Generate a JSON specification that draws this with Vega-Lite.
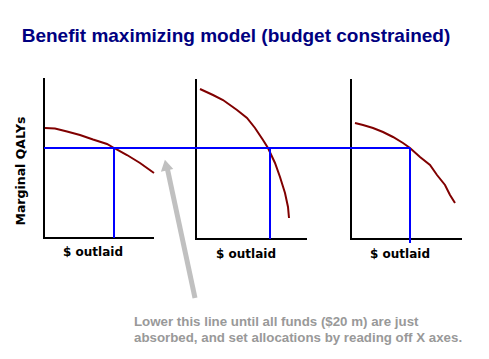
{
  "$schema": "https://vega.github.io/schema/vega-lite/v6.json",
  "width": 489,
  "height": 359,
  "autosize": {"type": "none"},
  "padding": 0,
  "background": "white",
  "config": {"view": {"stroke": null}},
  "datasets": {
    "axes": [
      {"x": 44, "y": 78, "x2": 44, "y2": 239},
      {"x": 43, "y": 238, "x2": 154, "y2": 238},
      {"x": 196, "y": 79, "x2": 196, "y2": 240},
      {"x": 195, "y": 239, "x2": 307, "y2": 239},
      {"x": 351, "y": 79, "x2": 351, "y2": 240},
      {"x": 350, "y": 239, "x2": 462, "y2": 239}
    ],
    "blue": [
      {"x": 44, "y": 148, "x2": 410, "y2": 148},
      {"x": 114, "y": 148, "x2": 114, "y2": 238},
      {"x": 270, "y": 148, "x2": 270, "y2": 239},
      {"x": 410, "y": 148, "x2": 410, "y2": 243}
    ],
    "curves": [
      {"s": "a", "i": 0, "x": 45, "y": 128},
      {"s": "a", "i": 1, "x": 55, "y": 128.5},
      {"s": "a", "i": 2, "x": 67, "y": 131.5},
      {"s": "a", "i": 3, "x": 80, "y": 135},
      {"s": "a", "i": 4, "x": 93, "y": 139.5},
      {"s": "a", "i": 5, "x": 107, "y": 144},
      {"s": "a", "i": 6, "x": 114, "y": 148},
      {"s": "a", "i": 7, "x": 127, "y": 155},
      {"s": "a", "i": 8, "x": 140, "y": 163},
      {"s": "a", "i": 9, "x": 154, "y": 173},
      {"s": "b", "i": 0, "x": 200, "y": 89},
      {"s": "b", "i": 1, "x": 213, "y": 95},
      {"s": "b", "i": 2, "x": 223, "y": 100},
      {"s": "b", "i": 3, "x": 237, "y": 110},
      {"s": "b", "i": 4, "x": 247, "y": 118},
      {"s": "b", "i": 5, "x": 255, "y": 128},
      {"s": "b", "i": 6, "x": 263, "y": 140},
      {"s": "b", "i": 7, "x": 268, "y": 148},
      {"s": "b", "i": 8, "x": 275, "y": 163},
      {"s": "b", "i": 9, "x": 280, "y": 177},
      {"s": "b", "i": 10, "x": 285, "y": 193},
      {"s": "b", "i": 11, "x": 288, "y": 207},
      {"s": "b", "i": 12, "x": 289, "y": 218},
      {"s": "c", "i": 0, "x": 355, "y": 123},
      {"s": "c", "i": 1, "x": 363, "y": 125},
      {"s": "c", "i": 2, "x": 373, "y": 128},
      {"s": "c", "i": 3, "x": 383, "y": 132},
      {"s": "c", "i": 4, "x": 393, "y": 137},
      {"s": "c", "i": 5, "x": 403, "y": 143},
      {"s": "c", "i": 6, "x": 410, "y": 148},
      {"s": "c", "i": 7, "x": 420, "y": 157},
      {"s": "c", "i": 8, "x": 430, "y": 165},
      {"s": "c", "i": 9, "x": 437, "y": 175},
      {"s": "c", "i": 10, "x": 445, "y": 185},
      {"s": "c", "i": 11, "x": 450, "y": 195},
      {"s": "c", "i": 12, "x": 455, "y": 203}
    ],
    "arrow": [{"x": 195, "y": 298, "x2": 167, "y2": 167}],
    "head": [{"x": 166, "y": 165}],
    "title": [{"x": 236, "y": 36, "text": "Benefit maximizing model (budget constrained)"}],
    "ylab": [{"x": 21, "y": 171, "text": "Marginal QALYs"}],
    "xlab": [
      {"x": 93, "y": 252, "text": "$ outlaid"},
      {"x": 246, "y": 254, "text": "$ outlaid"},
      {"x": 400, "y": 254, "text": "$ outlaid"}
    ],
    "note": [
      {"x": 134, "y": 322, "text": "Lower this line until all funds ($20 m) are just"},
      {"x": 134, "y": 338, "text": "absorbed, and set allocations by reading off X axes."}
    ]
  },
  "encoding": {
    "x": {"field": "x", "type": "quantitative", "axis": null, "scale": {"domain": [0, 489], "nice": false, "zero": false}},
    "y": {"field": "y", "type": "quantitative", "axis": null, "scale": {"domain": [0, 359], "nice": false, "zero": false, "reverse": true}}
  },
  "layer": [
    {
      "data": {"name": "arrow"},
      "mark": {"type": "rule", "color": "#c0c0c0", "strokeWidth": 5},
      "encoding": {"x2": {"field": "x2"}, "y2": {"field": "y2"}}
    },
    {
      "data": {"name": "head"},
      "mark": {"type": "point", "shape": "triangle-up", "filled": true, "color": "#c0c0c0", "opacity": 1, "size": 160, "angle": -11.5},
      "encoding": {}
    },
    {
      "data": {"name": "axes"},
      "mark": {"type": "rule", "color": "black", "strokeWidth": 2},
      "encoding": {"x2": {"field": "x2"}, "y2": {"field": "y2"}}
    },
    {
      "data": {"name": "curves"},
      "mark": {"type": "line", "color": "#800000", "strokeWidth": 2},
      "encoding": {"detail": {"field": "s"}, "order": {"field": "i", "type": "quantitative"}}
    },
    {
      "data": {"name": "blue"},
      "mark": {"type": "rule", "color": "#0000ff", "strokeWidth": 2},
      "encoding": {"x2": {"field": "x2"}, "y2": {"field": "y2"}}
    },
    {
      "data": {"name": "title"},
      "mark": {"type": "text", "font": "Liberation Sans", "fontSize": 19, "fontWeight": "bold", "color": "#000080", "align": "center", "baseline": "middle"},
      "encoding": {"text": {"field": "text"}}
    },
    {
      "data": {"name": "ylab"},
      "mark": {"type": "text", "font": "DejaVu Sans", "fontSize": 12.5, "fontWeight": "bold", "color": "black", "align": "center", "baseline": "middle", "angle": 270},
      "encoding": {"text": {"field": "text"}}
    },
    {
      "data": {"name": "xlab"},
      "mark": {"type": "text", "font": "DejaVu Sans", "fontSize": 12, "fontWeight": "bold", "color": "black", "align": "center", "baseline": "middle"},
      "encoding": {"text": {"field": "text"}}
    },
    {
      "data": {"name": "note"},
      "mark": {"type": "text", "font": "Liberation Sans", "fontSize": 13.3, "fontWeight": "bold", "color": "#999999", "align": "left", "baseline": "middle"},
      "encoding": {"text": {"field": "text"}}
    }
  ]
}
